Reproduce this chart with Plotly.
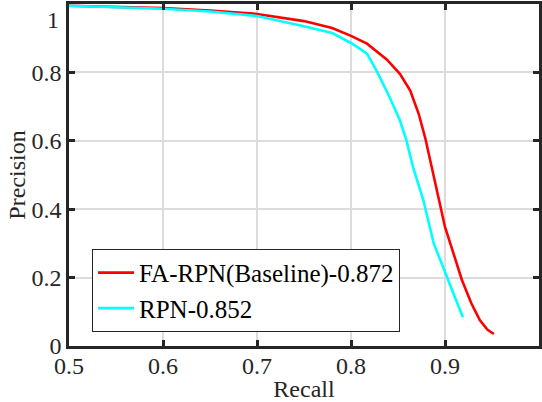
import plotly.graph_objects as go

fa_recall = [0.50, 0.55, 0.60, 0.65, 0.70, 0.75, 0.78, 0.80, 0.817, 0.838, 0.852, 0.863,
             0.872, 0.879, 0.886, 0.893, 0.900, 0.909, 0.918, 0.928, 0.937, 0.945, 0.952]
fa_precision = [0.995, 0.992, 0.988, 0.981, 0.971, 0.950, 0.930, 0.907, 0.884, 0.838, 0.796, 0.747,
                0.679, 0.608, 0.523, 0.438, 0.348, 0.271, 0.193, 0.125, 0.076, 0.048, 0.035]

rpn_recall = [0.50, 0.55, 0.60, 0.65, 0.70, 0.75, 0.78, 0.80, 0.817, 0.827, 0.833, 0.841,
              0.852, 0.859, 0.866, 0.877, 0.888, 0.895, 0.905, 0.912, 0.919]
rpn_precision = [0.995, 0.991, 0.986, 0.978, 0.965, 0.935, 0.915, 0.886, 0.855, 0.806, 0.772, 0.728,
                 0.660, 0.601, 0.523, 0.426, 0.300, 0.251, 0.183, 0.135, 0.084]

series_names = ["FA-RPN(Baseline)-0.872", "RPN-0.852"]
x_ticks = [0.5, 0.6, 0.7, 0.8, 0.9, 1.0]
x_ticktext = ["0.5", "0.6", "0.7", "0.8", "0.9", "1"]
y_ticks = [0, 0.2, 0.4, 0.6, 0.8, 1.0]
y_ticktext = ["0", "0.2", "0.4", "0.6", "0.8", ""]

FONT = "Liberation Serif"
TXT = "#262626"
FS = 24

fig = go.Figure()
fig.add_trace(go.Scatter(x=fa_recall, y=fa_precision, mode="lines", name=series_names[0],
                         line=dict(color="#FF0000", width=2.6)))
fig.add_trace(go.Scatter(x=rpn_recall, y=rpn_precision, mode="lines", name=series_names[1],
                         line=dict(color="#00FFFF", width=2.6)))

tickfont = dict(family=FONT, size=FS, color=TXT)

axis_common = dict(showline=True, linecolor=TXT, linewidth=2.5, mirror="ticks",
                   ticks="inside", ticklen=6, tickwidth=2.5, tickcolor=TXT,
                   showgrid=True, gridcolor="#DCDCDC", gridwidth=1.6, zeroline=False,
                   automargin=False, tickfont=tickfont)

fig.update_xaxes(range=[0.5, 1.0], tickvals=x_ticks, ticktext=x_ticktext, ticklabelstandoff=-4,
                 title=dict(text="Recall", font=dict(family=FONT, size=FS, color=TXT), standoff=4),
                 **axis_common)
fig.update_yaxes(range=[0, 1.0], tickvals=y_ticks, ticktext=y_ticktext, ticklabelstandoff=0,
                 title=dict(text="Precision", font=dict(family=FONT, size=FS, color=TXT), standoff=0),
                 **axis_common)

fig.add_annotation(text="1", xref="paper", yref="paper", x=0, y=0.953, xanchor="right",
                   yanchor="middle", xshift=-8, showarrow=False,
                   font=dict(family=FONT, size=FS, color=TXT))

fig.update_layout(
    template="none",
    width=542, height=402,
    margin=dict(l=69, r=3, t=4, b=56),
    paper_bgcolor="white", plot_bgcolor="white",
    font=dict(family=FONT, size=FS, color=TXT),
    legend=dict(x=0.049, y=0.284, xanchor="left", yanchor="top",
                bgcolor="white", bordercolor=TXT, borderwidth=1,
                font=dict(family=FONT, size=25, color="black"),
                tracegroupgap=0, itemwidth=36),
    showlegend=True,
)

fig.write_html("out.html", config={"displayModeBar": False},
               post_script="document.body.style.margin='0';document.body.style.padding='0';")
